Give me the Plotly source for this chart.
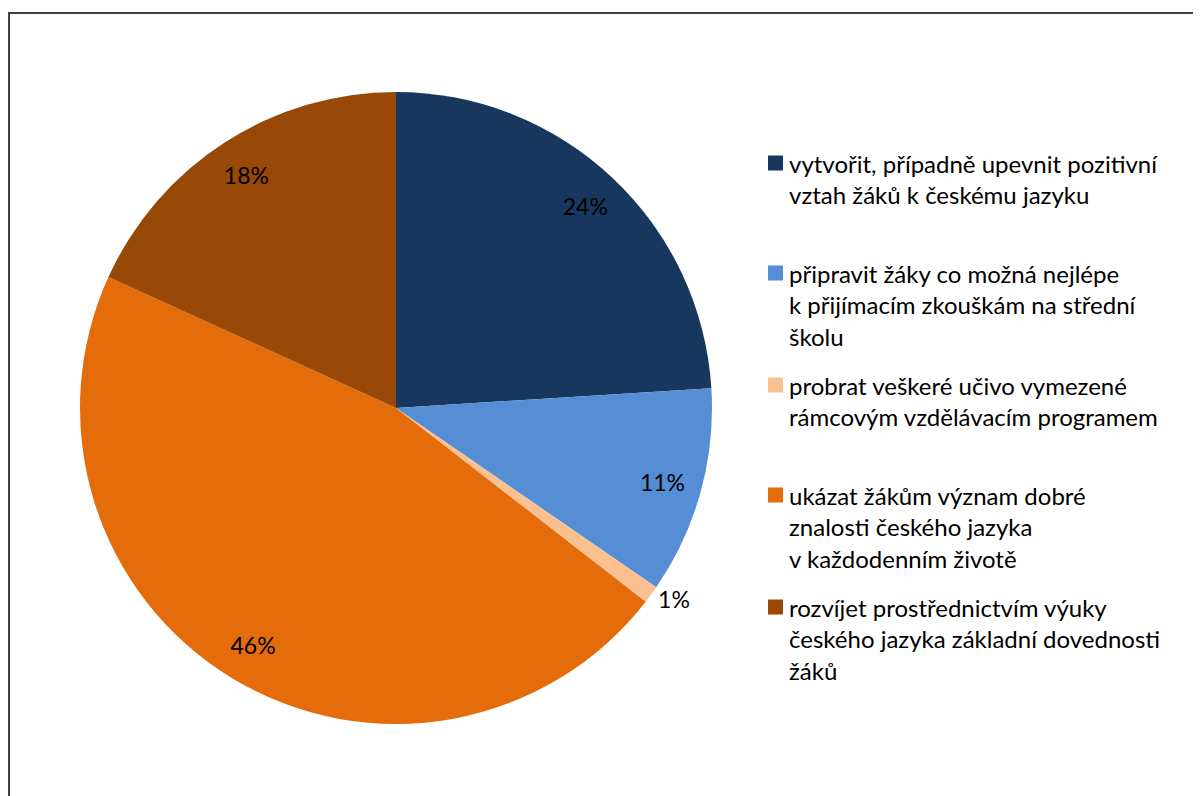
import plotly.graph_objects as go

# ---- data ----
categories = [
    "vytvořit, případně upevnit pozitivní vztah žáků k českému jazyku",
    "připravit žáky co možná nejlépe k přijímacím zkouškám na střední školu",
    "probrat veškeré učivo vymezené rámcovým vzdělávacím programem",
    "ukázat žákům význam dobré znalosti českého jazyka v každodenním životě",
    "rozvíjet prostřednictvím výuky českého jazyka základní dovednosti žáků",
]
legend_lines = [
    ["vytvořit, případně upevnit pozitivní", "vztah žáků k českému jazyku"],
    ["připravit žáky co možná nejlépe", "k přijímacím zkouškám na střední", "školu"],
    ["probrat veškeré učivo vymezené", "rámcovým vzdělávacím programem"],
    ["ukázat žákům význam dobré", "znalosti českého jazyka", "v každodenním životě"],
    ["rozvíjet prostřednictvím výuky", "českého jazyka základní dovednosti", "žáků"],
]
values = [24.0, 10.6, 0.9, 46.3, 18.2]
colors = ["#17375E", "#558ED5", "#FAC090", "#E46C0A", "#984807"]
label_positions = ["inside", "inside", "outside", "inside", "inside"]

W, H = 1201, 796
FONT = "Lato"
LEG_SIZE = 24
LAB_SIZE = 23

domain = dict(x=[72 / W, 704 / W], y=[1 - 716 / H, 1 - 84 / H])

fig = go.Figure()
# filled pie
fig.add_trace(go.Pie(
    labels=categories,
    values=values,
    sort=False,
    direction="clockwise",
    rotation=0,
    marker=dict(colors=colors, line=dict(width=0)),
    textinfo="none",
    domain=domain,
    showlegend=False,
    hoverinfo="label+percent",
))
# transparent ring that carries the percentage labels near the rim
fig.add_trace(go.Pie(
    labels=categories,
    values=values,
    sort=False,
    direction="clockwise",
    rotation=0,
    hole=0.75,
    marker=dict(colors=["rgba(0,0,0,0)"] * len(values), line=dict(width=0)),
    texttemplate="%{percent:.0%}",
    textposition=label_positions,
    insidetextorientation="horizontal",
    textfont=dict(family=FONT, size=LAB_SIZE, color="#000000"),
    outsidetextfont=dict(family=FONT, size=LAB_SIZE, color="#000000"),
    domain=domain,
    showlegend=False,
    hoverinfo="skip",
))

# ---- manual legend (Excel-like spacing) ----
item_tops = [155, 265, 377, 487, 599]
line_gap = 31.8
shapes = []
annotations = []
for i, lines in enumerate(legend_lines):
    y0 = item_tops[i]
    shapes.append(dict(
        type="rect", xref="paper", yref="paper",
        x0=760 / W, x1=775 / W,
        y0=1 - (y0 + 7.5) / H, y1=1 - (y0 - 7.5) / H,
        fillcolor=colors[i], line=dict(width=0),
    ))
    for j, t in enumerate(lines):
        annotations.append(dict(
            x=779 / W, y=1 - (y0 + j * line_gap) / H,
            xref="paper", yref="paper", xanchor="left", yanchor="middle",
            text=t, showarrow=False,
            font=dict(family=FONT, size=LEG_SIZE, color="#000000"),
        ))

# chart frame (partially visible)
shapes.append(dict(
    type="rect", xref="paper", yref="paper",
    x0=1 / W, x1=1.05, y0=-0.05, y1=1 - 5 / H,
    line=dict(color="#404040", width=2), fillcolor="rgba(0,0,0,0)",
))

fig.update_layout(
    width=W, height=H,
    margin=dict(l=0, r=0, t=0, b=0),
    paper_bgcolor="white",
    plot_bgcolor="white",
    shapes=shapes,
    annotations=annotations,
    font=dict(family=FONT, size=LEG_SIZE, color="#000000"),
)

fig.write_html("out.html")
